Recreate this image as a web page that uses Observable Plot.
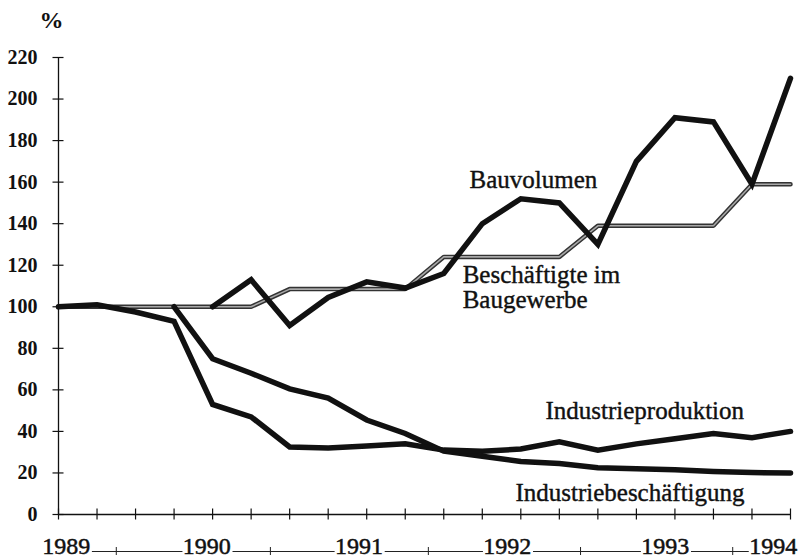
<!DOCTYPE html>
<html><head><meta charset="utf-8">
<script src="https://cdn.jsdelivr.net/npm/d3@7"></script>
<script src="https://cdn.jsdelivr.net/npm/@observablehq/plot@0.6"></script>
<style>
body{margin:0;background:#fff}
#chart svg{display:block}
</style>
</head><body><div id="chart"></div>
<script>
// quarter index 0 (start 1989) .. 19 (1994)
const quarters = d3.range(0, 20);
const bauvolumen        = [null, null, null, null, 100, 113, 91, 104.5, 112, 109, 116, 140, 152, 150, 130, 170, 191, 189, 159, 210];
const beschBau          = [100, 100, 100, 100, 100, 100, 108.5, 108.5, 108.5, 108.5, 124, 124, 124, 124, 139, 139, 139, 139, 159, 159];
const industrieprod     = [100, 101, 97.5, 93, 53, 47, 32.5, 32, 33, 34, 31, 30.5, 31.5, 35, 31, 34, 36.5, 39, 37, 40];
const industriebesch    = [null, null, null, 100, 75, 68, 60.5, 56, 45.5, 39, 30.5, 28, 25.5, 24.5, 22.5, 22, 21.5, 20.7, 20.2, 20];

const yTicks = d3.range(0, 221, 20);
const years = ["1989", "1990", "1991", "1992", "1993", "1994"];
const yearPos = [0.2, 3.85, 7.8, 11.65, 15.75, 18.55];
const midTicks = [1.5, 5.5, 9.6, 13.55, 17.5];

const seriesLabels = [
  {text: "Bauvolumen", x: 10.67, y: 157.4},
  {text: "Beschäftigte im\nBaugewerbe", x: 10.49, y: 99.2},
  {text: "Industrieproduktion", x: 12.64, y: 46.2},
  {text: "Industriebeschäftigung", x: 11.86, y: 6.7}
];

const toRows = (arr) => quarters.map(i => ({i, v: arr[i]}));
const segments = years.slice(0, -1).map((_, k) => ({a: yearPos[k] + 0.68, b: yearPos[k + 1] - 0.62}));
const yearRows = years.map((t, k) => ({t, x: yearPos[k]}));

const serif = "Liberation Serif";
const ink = "#111";
const lineOpts = {x: "i", y: "v", stroke: ink, strokeWidth: 5.5, strokeLinejoin: "miter", strokeMiterlimit: 4};

const chart = Plot.plot({
  width: 800, height: 558,
  marginLeft: 58, marginRight: 10, marginTop: 57, marginBottom: 44,
  style: {fontFamily: serif, fontSize: "20px", background: "#fff", color: ink, overflow: "visible"},
  x: {domain: [0, 19], axis: null},
  y: {domain: [0, 220], axis: null},
  marks: [
    // tick marks crossing the axes
    Plot.axisY({ticks: yTicks, tickSize: 11, dx: 5.5, tickFormat: () => "", strokeWidth: 1.2}),
    Plot.axisY({ticks: yTicks, tickSize: 0, tickPadding: 21, fontSize: 20, fontFamily: serif, fontWeight: "bold", letterSpacing: "-0.8px", label: null}),
    Plot.axisX({ticks: quarters, tickSize: 11, dy: -5.5, tickFormat: () => "", label: null, strokeWidth: 1.2}),
    Plot.ruleX([0], {stroke: ink, strokeWidth: 1.3}),
    Plot.ruleY([0], {stroke: ink, strokeWidth: 1.3}),
    // "%" unit label
    Plot.text(["%"], {frameAnchor: "top-left", dx: -7, dy: -37, fontSize: 24, fontFamily: serif, fontWeight: "bold", lineAnchor: "middle", textAnchor: "middle", fill: ink}),
    // year row below the axis
    Plot.text(yearRows, {x: "x", text: "t", frameAnchor: "bottom", dy: 32, fontSize: 24, fontFamily: serif, lineAnchor: "middle", letterSpacing: "-0.5px", fill: ink, stroke: ink, strokeWidth: 0.5}),
    Plot.ruleY(segments, {x1: "a", x2: "b", y: () => 0, dy: 37, stroke: "#222", strokeWidth: 1}),
    Plot.ruleX(midTicks, {x: d => d, y1: () => 0, y2: () => 0, insetTop: -4, insetBottom: -4, dy: 37, stroke: "#222", strokeWidth: 1}),
    // gray hollow line: Beschäftigte im Baugewerbe
    Plot.line(toRows(beschBau), {x: "i", y: "v", stroke: "#333", strokeWidth: 4.5, strokeLinejoin: "miter"}),
    Plot.line(toRows(beschBau), {x: "i", y: "v", stroke: "#a8a8a8", strokeWidth: 1.6, strokeLinejoin: "miter"}),
    // black lines
    Plot.line(toRows(industriebesch), lineOpts),
    Plot.line(toRows(industrieprod), lineOpts),
    Plot.line(toRows(bauvolumen), lineOpts),
    // series labels
    Plot.text(seriesLabels, {x: "x", y: "y", text: "text", textAnchor: "start", lineAnchor: "bottom", lineHeight: 1, fontSize: 25, fontFamily: serif, letterSpacing: "0.7px", fill: ink, stroke: ink, strokeWidth: 0.4})
  ]
});
document.getElementById("chart").append(chart);
</script>
</body></html>
